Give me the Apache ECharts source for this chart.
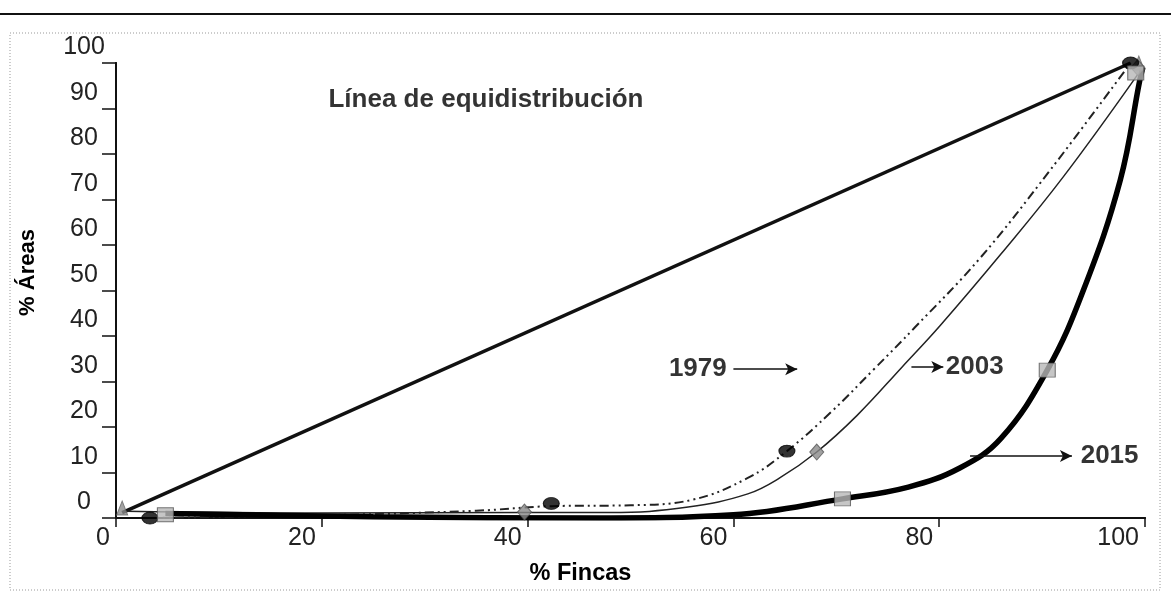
<!DOCTYPE html>
<html>
<head>
<meta charset="utf-8">
<script src="https://cdn.jsdelivr.net/npm/echarts@6.0.0/dist/echarts.min.js"></script>
<style>
  html, body { margin: 0; padding: 0; background: #fff; }
  #chart { width: 1171px; height: 596px; }
</style>
</head>
<body>
<div id="chart"></div>
<script>
// Lorenz curves: % Fincas vs % Áreas
const xTicks = [0, 20, 40, 60, 80, 100];
const yTicks = [0, 10, 20, 30, 40, 50, 60, 70, 80, 90, 100];

// line of equal distribution
const equiLine = [[0.6, 1.2], [98.6, 100]];
const equiMarks = [[0.6, 2.2], [99.4, 100]];

// 1979 (dash-dot-dot, black circles)
const line1979 = [[3.3, 0], [20, 0.6], [35, 1.6], [42.3, 2.6], [50, 2.8], [56, 4.0], [61.4, 8.8],
  [65.2, 14.7], [69.5, 23.3], [73.7, 32.8], [77.6, 41.8], [84, 57.2], [90.8, 76.5], [98.6, 100]];
const marks1979 = [[3.3, 0], [42.3, 3.2], [65.2, 14.7], [98.6, 100]];

// 2003 (thin solid, grey diamonds)
const line2003 = [[1, 1.5], [20, 1.1], [39.7, 1.2], [48, 1.2], [55.6, 2.4], [61.4, 5.3], [64.5, 8.8],
  [68.1, 14.5], [72, 22.5], [76.4, 33.2], [80.1, 42.3], [86, 58], [92, 74.8], [99.3, 97.5]];
const marks2003 = [[39.7, 1.3], [68.1, 14.5], [99.3, 99]];

// 2015 (thick solid, grey squares)
const line2015 = [[4.8, 1.0], [25, 0.3], [47, 0], [60, 0.7], [70.6, 4.2], [77, 6.8], [82, 11],
  [86, 17.5], [90.5, 32.5], [94, 50], [97.6, 74.3], [99.5, 96.3], [99.8, 99]];
const marks2015 = [[4.8, 0.7], [70.6, 4.2], [90.5, 32.5], [99.1, 97.8]];

// annotation texts and arrows (data coordinates)
const labels = [
  { text: 'Línea de equidistribución', x: 20.6, y: 91.9, side: 'right' },
  { text: '1979', x: 59.4, y: 32.7, side: 'left' },
  { text: '2003', x: 80.6, y: 33.2, side: 'right' },
  { text: '2015', x: 93.7, y: 13.6, side: 'right' }
];
const arrows = [
  [[60.0, 32.7], [66.2, 32.7]],
  [[77.3, 33.2], [80.4, 33.2]],
  [[83.0, 13.6], [92.9, 13.6]]
];

const FONT = '"Liberation Sans", Arial, sans-serif';
const chart = echarts.init(document.getElementById('chart'));

const lineSeries = (data, style, z) => ({
  type: 'line', data: data, showSymbol: false, smooth: 0.4,
  lineStyle: style, z: z, silent: true
});
const markSeries = (data, symbol, size, color, border) => ({
  type: 'scatter', data: data, symbol: symbol, symbolSize: size, z: 5, silent: true,
  itemStyle: { color: color, borderColor: border, borderWidth: 1 }
});

const option = {
  animation: false,
  backgroundColor: '#fff',
  textStyle: { fontFamily: FONT },
  graphic: [
    { type: 'line', shape: { x1: 0, y1: 14, x2: 1171, y2: 14 }, style: { stroke: '#111', lineWidth: 2 } },
    { type: 'rect', shape: { x: 10, y: 33, width: 1150, height: 557 },
      style: { fill: 'none', stroke: '#999', lineWidth: 1, lineDash: [1, 2] } }
  ],
  grid: { left: 116, right: 26, top: 63, bottom: 78 },
  xAxis: [{
    type: 'value', min: 0, max: 100, interval: 20,
    name: '% Fincas', nameLocation: 'middle', nameGap: 44,
    nameTextStyle: { fontSize: 23.5, fontWeight: 'bold', color: '#000', padding: [0, 100, 0, 0] },
    axisLine: { lineStyle: { color: '#111', width: 2 } },
    axisTick: { length: 9, lineStyle: { color: '#111', width: 1.5 } },
    axisLabel: { fontSize: 25, color: '#222', align: 'right', margin: 8, padding: [0, 6, 0, 0] },
    splitLine: { show: false }
  }, {
    type: 'value', min: 0, max: 100, position: 'top',
    axisLine: { show: true, lineStyle: { color: '#111', width: 2 } },
    axisTick: { show: false }, axisLabel: { show: false }, splitLine: { show: false }
  }],
  yAxis: [{
    type: 'value', min: 0, max: 100, interval: 10,
    name: '% Áreas', nameLocation: 'middle', nameGap: 77, nameRotate: 90,
    nameTextStyle: { fontSize: 22, fontWeight: 'bold', color: '#000', padding: [0, 0, 0, 36] },
    axisLine: { show: true, lineStyle: { color: '#111', width: 2 } },
    axisTick: { show: true, length: 14, lineStyle: { color: '#111', width: 1.5 } },
    axisLabel: { fontSize: 25, color: '#222', align: 'center', verticalAlign: 'bottom', lineHeight: 31, margin: 32 },
    splitLine: { show: false }
  }, {
    type: 'value', min: 0, max: 100, position: 'right',
    axisLine: { show: true, lineStyle: { color: '#111', width: 2 } },
    axisTick: { show: false }, axisLabel: { show: false }, splitLine: { show: false }
  }],
  series: [
    lineSeries(equiLine, { color: '#111', width: 3.5 }, 2),
    lineSeries(line1979, { color: '#222', width: 2, type: [9, 4, 2, 4, 2, 4] }, 2),
    lineSeries(line2003, { color: '#222', width: 1.5 }, 2),
    lineSeries(line2015, { color: '#000', width: 5.5 }, 3),
    markSeries(equiMarks, 'triangle', [11, 14], '#8c8c8c', '#666'),
    markSeries(marks2003, 'diamond', [14, 16], '#8a8a8a', '#555'),
    markSeries(marks1979, 'circle', [16, 12], '#000', '#000'),
    markSeries(marks2015, 'rect', [16, 14], '#b8b8b8', '#555'),
    {
      type: 'scatter', silent: true, z: 6,
      data: labels.map(l => ({
        value: [l.x, l.y],
        label: { show: true, formatter: l.text, position: l.side, distance: 0,
          fontSize: 26, fontWeight: 'bold', color: '#000', fontFamily: FONT }
      })),
      symbolSize: 1,
      itemStyle: { color: 'rgba(0,0,0,0)' },
      markLine: {
        silent: true, symbol: ['none', 'arrow'], symbolSize: [9, 12], animation: false,
        label: { show: false },
        lineStyle: { color: '#111', width: 1.5, type: 'solid', opacity: 1 },
        data: arrows.map(a => [{ coord: a[0] }, { coord: a[1] }])
      }
    }
  ]
};
chart.setOption(option);
</script>
</body>
</html>
